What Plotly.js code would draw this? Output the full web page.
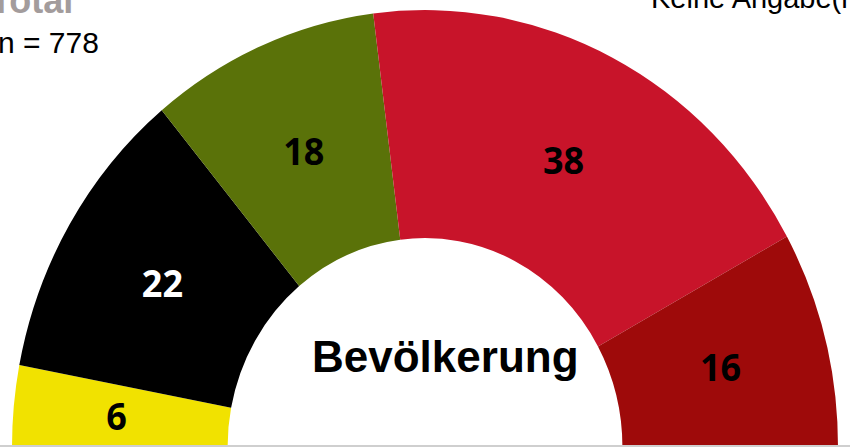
<!DOCTYPE html>
<html>
<head>
<meta charset="utf-8">
<script src="https://cdn.plot.ly/plotly-3.0.1.min.js"></script>
<style>
html, body { margin: 0; padding: 0; overflow: hidden; background: #ffffff; }
#wrap { width: 850px; height: 447px; overflow: hidden; position: relative; }
#chart { width: 850px; height: 894px; }
#chart .pielayer { transform: scaleY(1.058); transform-origin: 0px 447px; }
</style>
</head>
<body>
<div id="wrap"><div id="chart"></div></div>
<script>
// ---- data ----
const categories = ['Gelb', 'Schwarz', 'Grün', 'Rot', 'Dunkelrot'];
const values = [6, 22, 18, 38, 16];
const sliceColors = ['#f1e200', '#000000', '#5a7209', '#c8142a', '#9e0a0a'];
const labelColors = ['#000000', '#ffffff', '#000000', '#000000', '#000000'];
const centerLabel = 'Bevölkerung';
const titleText = 'Total';
const sampleText = 'n = 778';
const noAnswerText = 'Keine Angabe(n)';

// ---- layout geometry (page pixels) ----
const W = 850, H = 894;          // tall canvas; only the top 447 px are shown
const cx = 425, cy = 447, R = 413;
const RL = 339;                  // radius of the (invisible) label ring
const px = x => x / W;
const py = y => 1 - y / H;

const total = values.reduce((a, b) => a + b, 0);
const allLabels = categories.concat(['_rest']);
const allValues = values.concat([total]);
const clear = 'rgba(0,0,0,0)';

const common = {
  type: 'pie',
  labels: allLabels,
  values: allValues,
  sort: false,
  direction: 'clockwise',
  rotation: -90,
  hoverinfo: 'skip',
  showlegend: false
};

// coloured half-donut
const ringTrace = Object.assign({}, common, {
  hole: 0.478,
  textinfo: 'none',
  marker: { colors: sliceColors.concat([clear]), line: { width: 0 } },
  domain: { x: [px(cx - R), px(cx + R)], y: [py(cy + R), py(cy - R)] }
});

// transparent companion ring that carries the value labels at mid-ring
const labelTrace = Object.assign({}, common, {
  hole: 0.8,
  text: values.map(String).concat(['']),
  textinfo: 'text',
  textposition: 'inside',
  insidetextorientation: 'horizontal',
  marker: { colors: allValues.map(() => clear), line: { width: 0 } },
  textfont: { family: 'Open Sans, DejaVu Sans, sans-serif', size: 36, weight: 700,
              color: labelColors.concat([clear]) },
  domain: { x: [px(cx - RL), px(cx + RL)], y: [py(cy + RL), py(cy - RL)] }
});

const font = 'Liberation Sans, Arial, sans-serif';
const layout = {
  width: W, height: H,
  margin: { l: 0, r: 0, t: 0, b: 0 },
  paper_bgcolor: '#ffffff',
  plot_bgcolor: '#ffffff',
  showlegend: false,
  uniformtext: { mode: 'show', minsize: 36 },
  shapes: [
    { type: 'line', xref: 'paper', yref: 'paper', x0: 0, x1: 1, y0: py(446), y1: py(446),
      line: { color: '#cfcfcf', width: 2 } }
  ],
  annotations: [
    { text: titleText, x: px(-12), y: py(0.5), xref: 'paper', yref: 'paper',
      xanchor: 'left', yanchor: 'middle', showarrow: false,
      font: { family: font, size: 36, weight: 700, color: '#a39c9c' } },
    { text: sampleText, x: px(-4), y: py(42.5), xref: 'paper', yref: 'paper',
      xanchor: 'left', yanchor: 'middle', showarrow: false,
      font: { family: font, size: 30, color: '#000000' } },
    { text: noAnswerText, x: px(649), y: py(-2), xref: 'paper', yref: 'paper',
      xanchor: 'left', yanchor: 'middle', showarrow: false,
      font: { family: font, size: 29, color: '#000000' } },
    { text: centerLabel, x: px(445), y: py(356), xref: 'paper', yref: 'paper',
      xanchor: 'center', yanchor: 'middle', showarrow: false,
      font: { family: font, size: 44, weight: 700, color: '#000000' } }
  ]
};

Plotly.newPlot('chart', [ringTrace, labelTrace], layout, { staticPlot: true, displayModeBar: false });
</script>
</body>
</html>
